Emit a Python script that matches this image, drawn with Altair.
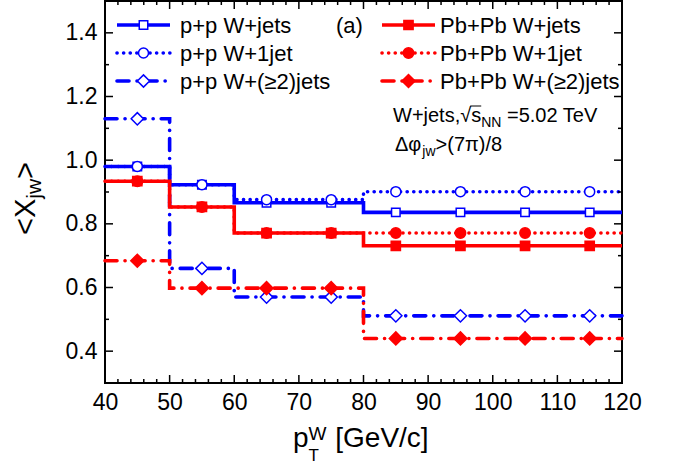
import altair as alt
import pandas as pd

# ---------------- data ----------------
edges = [40, 50, 60, 80, 120]
centers = [45, 55, 65, 75, 85, 95, 105, 115]
series_names = ["p+p W+jets", "p+p W+1jet", "p+p W+(≥2)jets",
                "Pb+Pb W+jets", "Pb+Pb W+1jet", "Pb+Pb W+(≥2)jets"]
pp_jets = [0.980, 0.923, 0.866, 0.836]
pp_1jet = [0.980, 0.923, 0.876, 0.901]
pp_2jets = [1.130, 0.660, 0.570, 0.511]
pb_jets = [0.934, 0.853, 0.771, 0.731]
pb_1jet = [0.934, 0.853, 0.771, 0.771]
pb_2jets = [0.684, 0.598, 0.598, 0.440]
series_values = [pp_jets, pp_1jet, pp_2jets, pb_jets, pb_1jet, pb_2jets]

x_ticks = [40, 50, 60, 70, 80, 90, 100, 110, 120]
x_minor = [v for v in range(42, 120, 2) if v % 10 != 0]
y_ticks = [0.4, 0.6, 0.8, 1.0, 1.2, 1.4]
y_minor = [0.5, 0.7, 0.9, 1.1, 1.3]

# ---------------- styles ----------------
BLUE = "#0000ff"
RED = "#ff0000"
FONT = "Liberation Sans"
W, H = 517, 382
DOT = [0.1, 6.5]
DASHDOT = [12, 8, 0.1, 8]
styles = [
    dict(color=BLUE, dash=None, cap="butt", shape="square", filled=False, size=72),
    dict(color=BLUE, dash=DOT, cap="round", shape="circle", filled=False, size=100),
    dict(color=BLUE, dash=DASHDOT, cap="round", shape="diamond", filled=False, size=150),
    dict(color=RED, dash=None, cap="butt", shape="square", filled=True, size=85),
    dict(color=RED, dash=DOT, cap="round", shape="circle", filled=True, size=110),
    dict(color=RED, dash=DASHDOT, cap="round", shape="diamond", filled=True, size=170),
]

xscale = alt.Scale(domain=[40, 120], nice=False, zero=False)
yscale = alt.Scale(domain=[0.3, 1.5], nice=False, zero=False)
xaxis = alt.Axis(values=x_ticks, format="d", ticks=False, domain=False, grid=False,
                 labelFont=FONT, labelFontSize=23, labelColor="black", labelPadding=8,
                 title=None, labelFlush=False)
yaxis = alt.Axis(values=y_ticks, format=".1f", ticks=False, domain=False, grid=False,
                 labelFont=FONT, labelFontSize=23, labelColor="black", labelPadding=8,
                 title=None)
X = alt.X("x:Q", scale=xscale, axis=xaxis)
Y = alt.Y("y:Q", scale=yscale, axis=yaxis)

one = pd.DataFrame({"a": [0]})

def line_kw(st):
    kw = dict(color=st["color"], strokeWidth=3.6, strokeCap=st["cap"])
    if st["dash"] is not None:
        kw["strokeDash"] = st["dash"]
    return kw

def point_kw(st):
    return dict(shape=st["shape"], size=st["size"], filled=True,
                fill=(st["color"] if st["filled"] else "white"),
                stroke=st["color"], strokeWidth=1.5, opacity=1)

def bin_of(c):
    for i in range(len(edges) - 1):
        if edges[i] <= c < edges[i + 1]:
            return i
    return len(edges) - 2

layers = []
for name, vals, st in zip(series_names, series_values, styles):
    step_df = pd.DataFrame({"x": edges, "y": vals + [vals[-1]]})
    layers.append(alt.Chart(step_df).mark_line(interpolate="step-after", **line_kw(st))
                  .encode(x=X, y=Y))
for name, vals, st in zip(series_names, series_values, styles):
    pts_df = pd.DataFrame({"x": centers, "y": [vals[bin_of(c)] for c in centers]})
    layers.append(alt.Chart(pts_df).mark_point(**point_kw(st)).encode(x=X, y=Y))

# ---------------- inward ticks ----------------
def xt(vals, length):
    df = pd.DataFrame({"x": vals})
    r = alt.Chart(df).mark_rule(color="black", strokeWidth=1.5)
    return [r.encode(x=X, y=alt.value(H), y2=alt.value(H - length)),
            r.encode(x=X, y=alt.value(0), y2=alt.value(length))]

def yt(vals, length):
    df = pd.DataFrame({"y": vals})
    r = alt.Chart(df).mark_rule(color="black", strokeWidth=1.5)
    return [r.encode(y=Y, x=alt.value(0), x2=alt.value(length)),
            r.encode(y=Y, x=alt.value(W), x2=alt.value(W - length))]

layers += xt(x_ticks[1:-1], 8) + xt(x_minor, 4) + yt(y_ticks, 8) + yt(y_minor, 4)

# ---------------- legend ----------------
def legend_item(st, label, x1, x2, y, tx):
    out = []
    out.append(alt.Chart(one).mark_rule(**line_kw(st))
               .encode(x=alt.value(x1), x2=alt.value(x2), y=alt.value(y)))
    out.append(alt.Chart(one).mark_point(**point_kw(st))
               .encode(x=alt.value((x1 + x2) / 2), y=alt.value(y)))
    out.append(alt.Chart(one).mark_text(text=label, font=FONT, fontSize=22, align="left",
                                        baseline="middle", color="black")
               .encode(x=alt.value(tx), y=alt.value(y + 1)))
    return out

rows = [24, 52, 80]
for i in range(3):
    layers += legend_item(styles[i], series_names[i], 12, 65, rows[i], 75)
    layers += legend_item(styles[i + 3], series_names[i + 3], 277, 330, rows[i], 335)

layers.append(alt.Chart(one).mark_text(text="(a)", font=FONT, fontSize=22, align="left",
                                       baseline="middle", color="black")
              .encode(x=alt.value(231), y=alt.value(25)))

# ---------------- rich text helpers ----------------
AW = {' ': 278, '(': 333, ')': 333, '+': 584, ',': 278, '-': 333, '.': 278, '/': 278,
      '<': 584, '=': 584, '>': 584, 'G': 778, 'N': 722, 'P': 667, 'T': 611, 'V': 667,
      'W': 944, 'X': 667, '[': 278, ']': 278, 'b': 556, 'c': 500, 'e': 556, 'j': 222,
      'p': 556, 's': 500, 't': 278, 'w': 722, 'Δ': 668, 'φ': 700, 'π': 600, '√': 549,
      '≥': 549}

def tw(s, size):
    return sum(AW.get(ch, 556) for ch in s) * size / 1000.0

def htext(parts, x, y):
    out = []
    cx = x
    for p in parts:
        text, size, dy = p[0], p[1], p[2]
        adv = p[3] if len(p) > 3 else tw(text, size)
        lead = len(text) - len(text.lstrip(" "))
        shown = text.lstrip(" ")
        out.append(alt.Chart(one).mark_text(text=shown, font=FONT, fontSize=size, align="left",
                                            baseline="alphabetic", color="black")
                   .encode(x=alt.value(cx + tw(" " * lead, size)), y=alt.value(y + dy)))
        cx += adv
    return out

def vtext(parts, x, y):
    out = []
    cy = y
    for text, size, dx in parts:
        out.append(alt.Chart(one).mark_text(text=text, font=FONT, fontSize=size, align="left",
                                            baseline="alphabetic", angle=270, color="black")
                   .encode(x=alt.value(x + dx), y=alt.value(cy)))
        cy -= tw(text, size)
    return out

# annotation line 1
a1x, a1y = 288, 121
layers += htext([("W+jets,", 20, 0), ("√", 20, 0), ("s", 20, 0), ("NN", 14, 5),
                 (" =5.02 TeV", 20, 0)], a1x, a1y)
sx = a1x + tw("W+jets,√", 20)
layers.append(alt.Chart(one).mark_rule(color="black", strokeWidth=1)
              .encode(x=alt.value(sx - 1), x2=alt.value(sx + tw("s", 20)), y=alt.value(a1y - 16)))
# annotation line 2
layers += htext([("Δφ", 20, 0), ("jw", 14, 5), (">(7π)/8", 20, 0)], 290, 150)

# axis titles
layers += htext([("p", 28, 0), ("W", 19, -7, 0), ("T", 17, 14, tw("W", 19) + 1),
                 (" [GeV/c]", 28, 0)], 188, 446)
layers += vtext([("<X", 29, 0), ("jw", 21, 6), (">", 29, 0)], -70, 234)

chart = alt.layer(*layers).properties(
    width=W, height=H,
    autosize=alt.AutoSizeParams(type="none"),
    padding={"left": 105, "top": 1, "right": 52, "bottom": 84},
    background="white",
).configure_view(stroke="black", strokeWidth=2)

chart.save("out.html", embed_options={"renderer": "svg", "actions": False})
